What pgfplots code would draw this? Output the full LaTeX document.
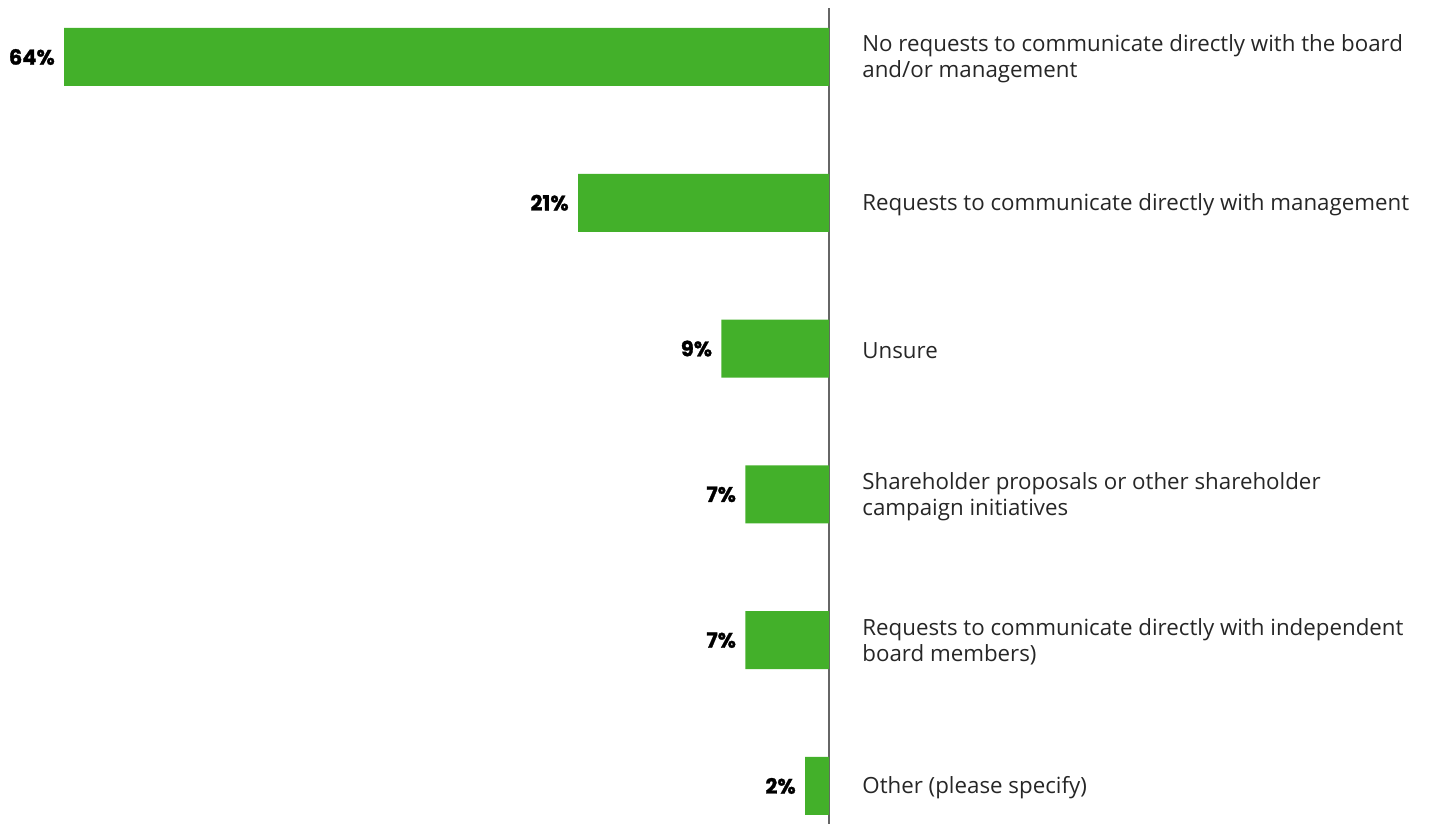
\documentclass[border=0pt]{standalone}
\usepackage{pgfplots}
\pgfplotsset{compat=1.18}
\usepackage{fontspec}
\setmainfont{Open Sans}
\newfontfamily\pctfont[BoldFeatures={FakeBold=1.2}]{Poppins}
\definecolor{barg}{HTML}{43B02A}
\definecolor{axg}{HTML}{666666}
\begin{document}
\begin{tikzpicture}
\useasboundingbox (0,0) rectangle (714.5pt,412pt);
\begin{axis}[
  at={(0,0)}, anchor=south west,
  scale only axis, width=414.5pt, height=408pt,
  xbar, bar width=29pt,
  xmin=-69.37, xmax=0,
  y dir=reverse, ymin=-0.336, ymax=5.261,
  axis x line=none,
  axis y line*=right,
  axis line style={axg, line width=1pt},
  major tick length=0pt,
  ytick={0,1,2,3,4,5},
  yticklabel pos=right,
  yticklabels={{No requests to communicate directly with the board\\and/or management},
    {Requests to communicate directly with management},
    {Unsure},
    {Shareholder proposals or other shareholder\\campaign initiatives},
    {Requests to communicate directly with independent\\board members)},
    {Other (please specify)}},
  yticklabel style={align=left, anchor=west, inner sep=0pt, xshift=16.5pt, yshift=-1pt,
    font=\fontsize{11.15}{13}\selectfont, text=black!85},
  point meta=explicit symbolic,
  nodes near coords={\pgfplotspointmeta\%},
  every node near coord/.append style={anchor=east, inner sep=0pt, xshift=-4.5pt,
    font=\pctfont\bfseries\fontsize{10.5}{13}\selectfont, text=black},
  clip=false,
]
\addplot[fill=barg, draw=none] coordinates {
  (-64,0) [64]
  (-21,1) [21]
  (-9,2) [9]
  (-7,3) [7]
  (-7,4) [7]
  (-2,5) [2]
};
\end{axis}
\end{tikzpicture}
\end{document}
